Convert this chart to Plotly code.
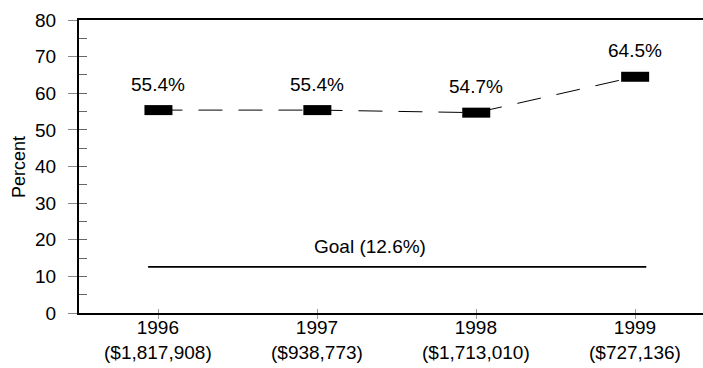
import plotly.graph_objects as go

years = ["1996", "1997", "1998", "1999"]
amounts = ["($1,817,908)", "($938,773)", "($1,713,010)", "($727,136)"]
percent = [55.4, 55.4, 54.7, 64.5]
point_labels = ["55.4%", "55.4%", "54.7%", "64.5%"]
goal_value = 12.6
goal_label = "Goal (12.6%)"
goal_span = [-0.065, 3.07]
y_ticks = [0, 10, 20, 30, 40, 50, 60, 70, 80]

FONT = "Liberation Sans, Arial, sans-serif"
FS = 19
xpos = list(range(len(years)))
ticktext = [f"{y}<br>{a}" for y, a in zip(years, amounts)]

L, R, T, B = 78.6, 0, 20, 55
W, H = 703, 368
plot_w = W - L - R

fig = go.Figure()

fig.add_trace(go.Scatter(
    x=xpos, y=percent, mode="lines",
    line=dict(color="black", width=1, dash="24px,16px"),
    hoverinfo="skip", showlegend=False,
))
fig.add_trace(go.Scatter(
    x=xpos, y=percent, mode="markers",
    marker=dict(symbol="line-ew", size=20, color="black",
                line=dict(color="black", width=10)),
    showlegend=False,
))
fig.add_trace(go.Scatter(
    x=goal_span, y=[goal_value, goal_value], mode="lines",
    line=dict(color="black", width=1.6), showlegend=False,
))
fig.add_trace(go.Scatter(x=[0], y=[0], xaxis="x2", yaxis="y2",
                         mode="markers", marker=dict(opacity=0),
                         showlegend=False, hoverinfo="skip"))

for x, y, t in zip(xpos, percent, point_labels):
    fig.add_annotation(x=x, y=y, text=t, showarrow=False, yshift=26,
                       font=dict(family=FONT, size=FS, color="black"))

fig.add_annotation(x=1.33, y=goal_value, text=goal_label, showarrow=False,
                   yshift=20, font=dict(family=FONT, size=FS, color="black"))

# category labels (two lines) below the x axis
for x, t in zip(xpos, ticktext):
    fig.add_annotation(x=x, y=0, text=t, showarrow=False, yanchor="top",
                       yshift=-2, xanchor="center", align="center",
                       font=dict(family=FONT, size=FS, color="black"))

fig.add_annotation(x=(18 - L) / plot_w, y=0.5, xref="paper", yref="paper",
                   xanchor="center", yanchor="middle",
                   text="Percent", textangle=-90, showarrow=False,
                   font=dict(family=FONT, size=18, color="black"))

xr = [-0.5, -0.5 + plot_w / 159.0]
yr = [0, 80]

fig.update_layout(
    width=W, height=H,
    margin=dict(l=L, r=R, t=T, b=B, pad=0),
    plot_bgcolor="white", paper_bgcolor="white",
    font=dict(family=FONT, size=FS, color="black"),
    xaxis=dict(range=xr, tickmode="array", tickvals=xpos,
               showticklabels=False,
               ticks="outside", ticklen=4, tickcolor="#999999",
               showline=True, linecolor="black", linewidth=2,
               mirror=True, showgrid=False, zeroline=False, automargin=False),
    yaxis=dict(range=yr, tickmode="array", tickvals=y_ticks,
               ticks="outside", ticklen=9, tickcolor="#888888",
               showline=True, linecolor="black", linewidth=2,
               showgrid=False, zeroline=False, ticklabelstandoff=8,
               automargin=False,
               tickfont=dict(family=FONT, size=FS, color="black")),
    xaxis2=dict(range=xr, overlaying="x", tickmode="array", tickvals=xpos,
                ticks="inside", ticklen=4, tickcolor="#999999",
                showticklabels=False, showgrid=False, zeroline=False,
                showline=False, side="bottom", automargin=False),
    yaxis2=dict(range=yr, overlaying="y", dtick=5, tick0=0,
                ticks="inside", ticklen=8, tickcolor="#666666",
                showticklabels=False, showgrid=False, zeroline=False,
                showline=False, automargin=False),
)

fig.write_html("out.html",
               config={"displayModeBar": False},
               post_script="document.body.style.margin='0';"
                           "document.body.style.overflow='hidden';")
